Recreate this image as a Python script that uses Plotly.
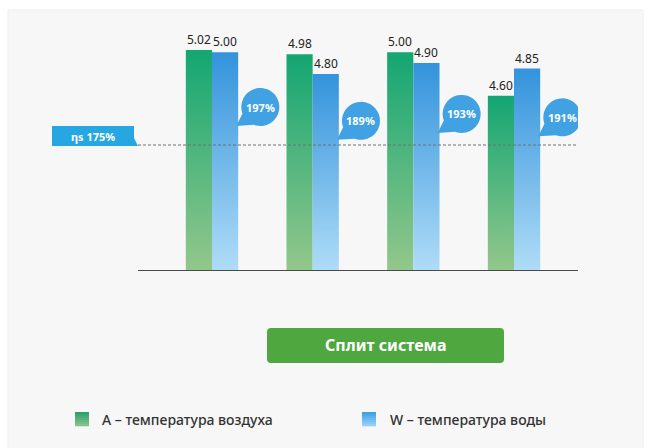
import numpy as np
import plotly.graph_objects as go

# COP values per model (A = air temperature, W = water temperature)
group_ids = [0, 1, 2, 3]
air_cop = [5.02, 4.98, 5.00, 4.60]
water_cop = [5.00, 4.80, 4.90, 4.85]
seasonal_eff = [197, 189, 193, 191]   # ηs, %
eff_threshold = 175
legend_labels = ["A – температура воздуха", "W – температура воды"]
button_text = "Сплит система"

FIG_W, FIG_H = 651, 448
M_L, M_R, M_T, M_B = 138, 73, 20, 178
PLOT_W = FIG_W - M_L - M_R
PLOT_H = FIG_H - M_T - M_B

Y_FLOOR = 3.0
BAR_W = 0.26
FONT = "Noto Sans"

GREEN_SCALE = [[0, "#93c78b"], [1, "#13a673"]]
BLUE_SCALE = [[0, "#afdcf7"], [1, "#3393dc"]]


def bar_trace(x_left, value, scale):
    xs = [x_left, x_left, x_left + BAR_W, x_left + BAR_W, x_left]
    ys = [Y_FLOOR, value, value, Y_FLOOR, Y_FLOOR]
    return go.Scatter(
        x=xs, y=ys, mode="lines", fill="toself", line=dict(width=0),
        fillgradient=dict(type="vertical", colorscale=scale,
                          start=Y_FLOOR, stop=value),
        hoverinfo="skip", showlegend=False,
    )


fig = go.Figure()
for g, a, w in zip(group_ids, air_cop, water_cop):
    fig.add_trace(bar_trace(g - BAR_W, a, GREEN_SCALE))
    fig.add_trace(bar_trace(g, w, BLUE_SCALE))

# invisible trace so the percentage axis is active
fig.add_trace(go.Scatter(x=group_ids, y=seasonal_eff, yaxis="y2", mode="markers",
                         marker=dict(opacity=0), hoverinfo="skip", showlegend=False))

annotations = []
shapes = []


def px_x(px):
    return (px - M_L) / PLOT_W


def px_y(py):
    return (FIG_H - M_B - py) / PLOT_H


def pix_shape(path, color, layer="above", xanchor=0, yanchor=0, xref="paper", yref="paper", line=None):
    return dict(type="path", xref=xref, yref=yref, xsizemode="pixel", ysizemode="pixel",
                xanchor=xanchor, yanchor=yanchor, path=path, fillcolor=color,
                line=line or dict(width=0), layer=layer)


def poly(points):
    return "M " + " L ".join(f"{x:.2f},{y:.2f}" for x, y in points) + " Z"


def label(x, y, text, size, color, xref="paper", yref="paper", xanchor="center",
          yanchor="middle", weight="normal", **kw):
    annotations.append(dict(x=x, y=y, xref=xref, yref=yref, text=text, showarrow=False,
                            xanchor=xanchor, yanchor=yanchor,
                            font=dict(family=FONT, size=size, color=color, weight=weight),
                            **kw))


# panel background
shapes.append(pix_shape(poly([(-130, 260), (505, 260), (505, -180), (-130, -180)]),
                        "#f7f7f7", layer="below", line=dict(color="#efefef", width=1)))

# value labels above the bars
for g, a, w in zip(group_ids, air_cop, water_cop):
    for xc, v in ((g - BAR_W / 2, a), (g + BAR_W / 2, w)):
        label(xc, v, f"{v:.2f}", 12, "#222222", xref="x", yref="y", yanchor="bottom")

# threshold line and its tag
shapes.append(dict(type="line", xref="paper", yref="y2", x0=0, x1=1,
                   y0=eff_threshold, y1=eff_threshold,
                   line=dict(color="#707070", width=1, dash="3px,2px")))
shapes.append(pix_shape(poly([(-86, 19), (-4, 19), (-4, 7), (0, -1), (-86, -1)]),
                        "#27a7e1", yanchor=eff_threshold, yref="y2"))
label(0, eff_threshold, f"ηs {eff_threshold}%", 11, "white", yref="y2",
      weight="bold", xshift=-45, yshift=9)


# speech bubbles with seasonal efficiency
def bubble_path(r=19, tip=(-24, -19), a_gap0=200, a_gap1=250):
    ang = np.radians(np.linspace(a_gap1, a_gap0 + 360, 48))
    pts = [(r * np.cos(t), r * np.sin(t)) for t in ang]
    pts.append(tip)
    return poly(pts)


BUBBLE_DX = 0.48
for g, e in zip(group_ids, seasonal_eff):
    shapes.append(pix_shape(bubble_path(), "#40a2e2", xanchor=g + BUBBLE_DX,
                            yanchor=e, xref="x", yref="y2"))
    label(g + BUBBLE_DX, e, f"{e}%", 11, "white", xref="x", yref="y2", weight="bold")


# rounded button
def rounded_rect(x0, y0, x1, y1, r):
    return (f"M {x0 + r},{y0} L {x1 - r},{y0} Q {x1},{y0} {x1},{y0 + r} "
            f"L {x1},{y1 - r} Q {x1},{y1} {x1 - r},{y1} L {x0 + r},{y1} "
            f"Q {x0},{y1} {x0},{y1 - r} L {x0},{y0 + r} Q {x0},{y0} {x0 + r},{y0} Z")


shapes.append(pix_shape(rounded_rect(129, -93, 366, -58, 4), "#4fa83f"))
label(px_x(385), px_y(345), button_text, 16, "white", weight="bold")


# legend swatches with a vertical gradient, drawn as thin strips
def swatch(x0, top, size, c_top, c_bot, n=7):
    c_top = np.array([int(c_top[i:i + 2], 16) for i in (1, 3, 5)])
    c_bot = np.array([int(c_bot[i:i + 2], 16) for i in (1, 3, 5)])
    h = size / n
    for k in range(n):
        c = c_top + (c_bot - c_top) * (k / (n - 1))
        col = "rgb({},{},{})".format(*[int(v) for v in c])
        y_hi = top - k * h
        shapes.append(pix_shape(poly([(x0, y_hi), (x0 + size, y_hi),
                                      (x0 + size, y_hi - h - 0.3), (x0, y_hi - h - 0.3)]), col))


swatch(75 - M_L, 270 - 412, 14, "#2ea26e", "#86c18c")
swatch(362 - M_L, 270 - 412, 14, "#3fa2e6", "#94d0f6")
label(px_x(100), px_y(419), legend_labels[0], 14, "#333333", xanchor="left", weight=500)
label(px_x(388), px_y(419), legend_labels[1], 14, "#333333", xanchor="left", weight=500)

Y_SCALE = 220 / (air_cop[0] - Y_FLOOR)          # px per COP unit
Y2_SCALE = 38 / (seasonal_eff[0] - eff_threshold)  # px per percent
y2_low = eff_threshold - (FIG_H - M_B - 145) / Y2_SCALE
y2_high = y2_low + PLOT_H / Y2_SCALE

fig.update_layout(
    width=FIG_W, height=FIG_H,
    margin=dict(l=M_L, r=M_R, t=M_T, b=M_B, pad=0),
    paper_bgcolor="white", plot_bgcolor="rgba(0,0,0,0)",
    showlegend=False,
    xaxis=dict(range=[-0.735, -0.735 + PLOT_W / 100.67], showgrid=False, zeroline=False,
               showticklabels=False, ticks="", showline=True, linecolor="#4a4a4a",
               linewidth=1, fixedrange=True),
    yaxis=dict(range=[Y_FLOOR, Y_FLOOR + PLOT_H / Y_SCALE], showgrid=False, zeroline=False,
               showticklabels=False, ticks="", showline=False, fixedrange=True),
    yaxis2=dict(range=[y2_low, y2_high], overlaying="y", showgrid=False, zeroline=False,
                showticklabels=False, ticks="", showline=False, fixedrange=True),
    shapes=shapes, annotations=annotations,
    font=dict(family=FONT),
)

fig.write_html("out.html")
